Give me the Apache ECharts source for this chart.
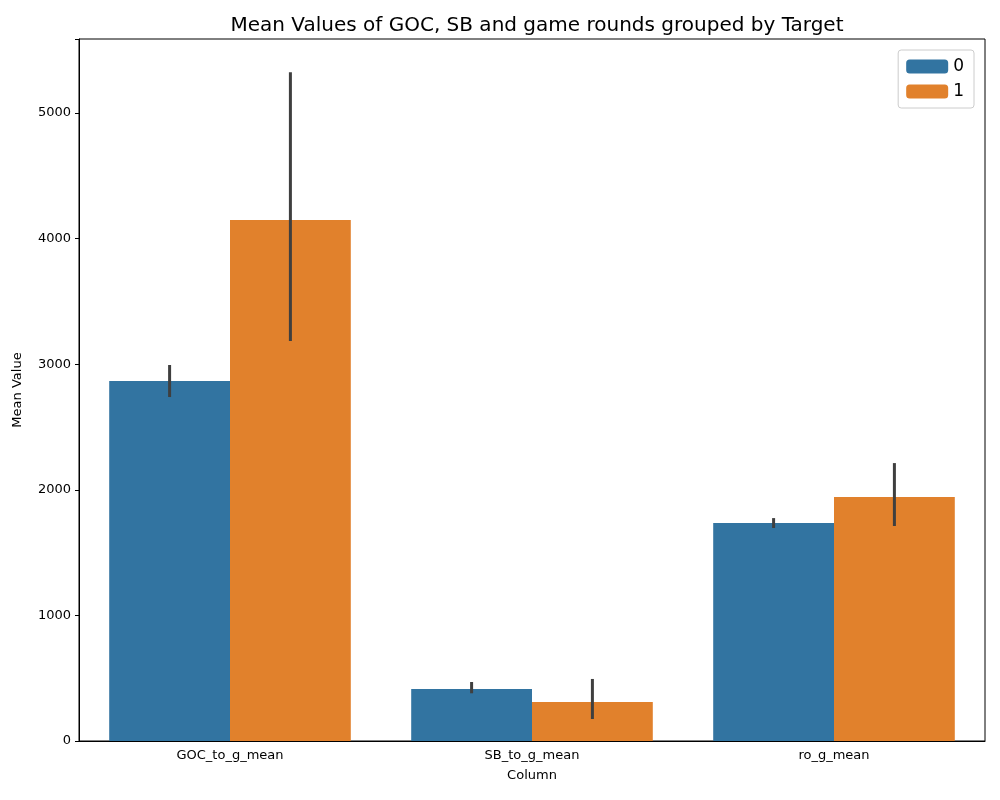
<!DOCTYPE html>
<html><head><meta charset="utf-8">
<script src="https://cdn.jsdelivr.net/npm/echarts@6/dist/echarts.min.js"></script>
<style>html,body{margin:0;padding:0;background:#fff}#chart{width:1000px;height:800px}</style>
</head><body><div id="chart"></div>
<script>
var categories = ['GOC_to_g_mean', 'SB_to_g_mean', 'ro_g_mean'];
var mean0 = [2866, 414, 1736];
var mean1 = [4148, 311, 1943];
var err0 = [[2739, 2994], [380, 470], [1696, 1775]];
var err1 = [[3185, 5326], [175, 494], [1712, 2213]];

function errData(errs) {
    return errs.map(function (e, i) { return [i, e[0], e[1]]; });
}
function errSeries(errs, side) {
    return {
        type: 'custom',
        z: 10,
        silent: true,
        data: errData(errs),
        encode: {x: 0, y: [1, 2]},
        renderItem: function (params, api) {
            var w = api.size([1, 0])[0];
            var off = side * 0.2 * w;
            var lo = api.coord([api.value(0), api.value(1)]);
            var hi = api.coord([api.value(0), api.value(2)]);
            return {
                type: 'line',
                shape: {x1: lo[0] + off, y1: lo[1], x2: hi[0] + off, y2: hi[1]},
                style: {stroke: '#3f3f3f', lineWidth: 3}
            };
        }
    };
}

var chart = echarts.init(document.getElementById('chart'));
chart.setOption({
    animation: false,
    title: {
        text: 'Mean Values of GOC, SB and game rounds grouped by Target',
        left: 532, top: 11, textAlign: 'center',
        textStyle: {fontFamily: 'DejaVu Sans', fontSize: 20, fontWeight: 'normal', color: '#000'}
    },
    legend: {
        right: 26, top: 50, orient: 'vertical', itemWidth: 42, itemHeight: 14, itemGap: 8,
        padding: [8, 10, 8, 8],
        borderColor: '#ccc', borderWidth: 1, borderRadius: 3,
        textStyle: {fontFamily: 'DejaVu Sans', fontSize: 17, color: '#000'},
        data: ['0', '1']
    },
    grid: {left: 79, right: 15, top: 39, bottom: 59, show: true, borderColor: '#000', borderWidth: 1, containLabel: false},
    xAxis: {
        type: 'category', data: categories,
        name: 'Column', nameLocation: 'middle', nameGap: 28,
        nameTextStyle: {fontFamily: 'DejaVu Sans', fontSize: 13, color: '#000'},
        axisLine: {lineStyle: {color: '#000'}},
        axisTick: {alignWithLabel: true, lineStyle: {color: '#000'}, length: 4},
        axisLabel: {fontFamily: 'DejaVu Sans', fontSize: 13, color: '#000', margin: 8}
    },
    yAxis: {
        type: 'value', min: 0, max: 5590, interval: 1000,
        name: 'Mean Value', nameLocation: 'middle', nameGap: 55,
        nameTextStyle: {fontFamily: 'DejaVu Sans', fontSize: 13, color: '#000'},
        splitLine: {show: false},
        axisLine: {show: true, lineStyle: {color: '#000'}},
        axisTick: {show: true, lineStyle: {color: '#000'}, length: 4},
        axisLabel: {fontFamily: 'DejaVu Sans', fontSize: 13, color: '#000',
            formatter: function (v) { return v % 1000 === 0 ? v : ''; }}
    },
    series: [
        {name: '0', type: 'bar', data: mean0, barGap: '0%', barCategoryGap: '20%', itemStyle: {color: '#3274a1'}},
        {name: '1', type: 'bar', data: mean1, itemStyle: {color: '#e1812c'}},
        errSeries(err0, -1),
        errSeries(err1, 1)
    ]
});
</script></body></html>
